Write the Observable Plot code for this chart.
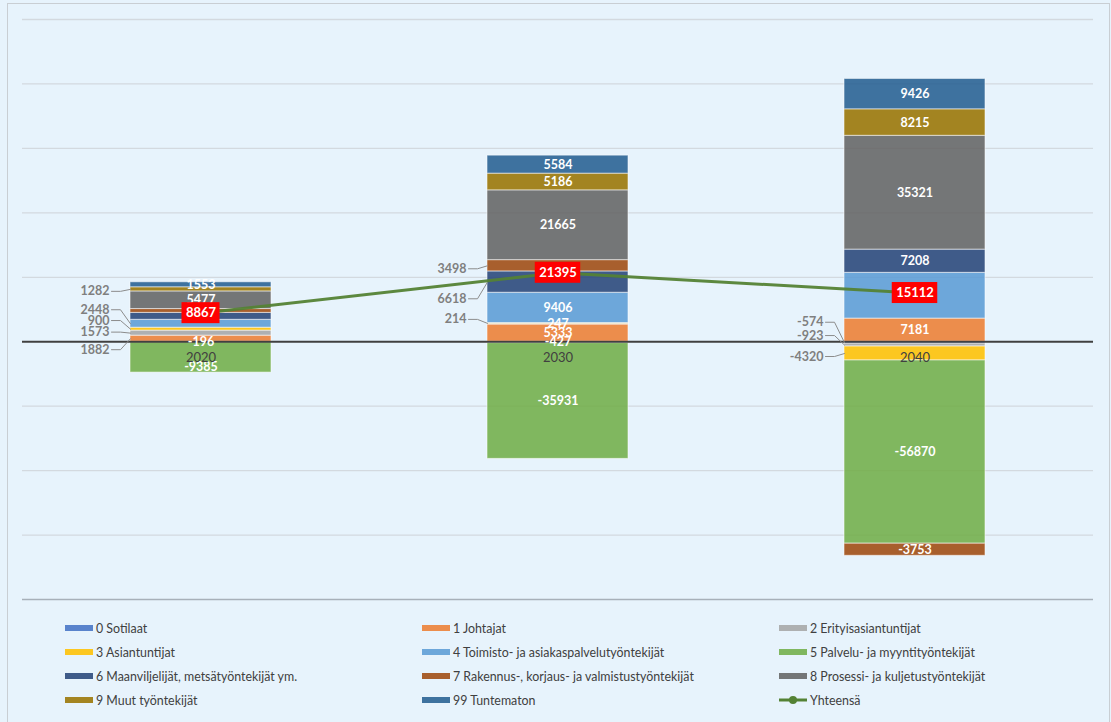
<!DOCTYPE html>
<html><head><meta charset="utf-8">
<script src="https://cdn.jsdelivr.net/npm/d3@7"></script>
<script src="https://cdn.jsdelivr.net/npm/@observablehq/plot@0.6"></script>
<style>
html,body{margin:0;padding:0;background:#e7f3fc;}
body{width:1111px;height:722px;overflow:hidden;position:relative;font-family:Lato,"Open Sans",sans-serif;}
#frame{position:absolute;left:7px;top:3px;width:1101px;height:740px;border:1px solid #c9ced3;background:#e7f3fc;}
#chart{position:absolute;left:0;top:0;}
#legend{position:absolute;left:65px;top:616px;display:grid;grid-template-columns:357px 357px 320px;}
.item{height:24px;display:flex;align-items:center;font-size:12.4px;color:#404040;white-space:nowrap;}
.sw{width:28px;height:6px;margin-right:3px;flex:none;}
.lsw{width:28px;height:10px;margin-right:3px;flex:none;}
</style></head><body>
<div id="frame"></div>
<div id="chart"></div>
<div id="legend"></div>
<script>
// ---- data ----
const categories = ["2020", "2030", "2040"];
const seriesNames = [
  "0 Sotilaat",
  "1 Johtajat",
  "2 Erityisasiantuntijat",
  "3 Asiantuntijat",
  "4 Toimisto- ja asiakaspalvelutyöntekijät",
  "5 Palvelu- ja myyntityöntekijät",
  "6 Maanviljelijät, metsätyöntekijät ym.",
  "7 Rakennus-, korjaus- ja valmistustyöntekijät",
  "8 Prosessi- ja kuljetustyöntekijät",
  "9 Muut työntekijät",
  "99 Tuntematon"
];
const sotilaat = [-196, -427, -574];
const johtajat = [1882, 5333, 7181];
const erityisasiantuntijat = [1573, 247, -923];
const asiantuntijat = [900, 214, -4320];
const toimisto = [2448, 9406, 14201];
const palvelu = [-9385, -35931, -56870];
const maanviljelijat = [2153, 6618, 7208];
const rakennus = [1180, 3498, -3753];
const prosessi = [5477, 21665, 35321];
const muut = [1282, 5186, 8215];
const tuntematon = [1553, 5584, 9426];
const yhteensa = [8867, 21395, 15112];
const totalName = "Yhteensä";
const gridTicks = [-80000, -60000, -40000, -20000, 20000, 40000, 60000, 80000, 100000];

// ---- styles ----
const seriesColors = ["#4472C4","#ED7D31","#A5A5A5","#FFC000","#5B9BD5","#70AD47","#264478","#9E480E","#636363","#997300","#255E91"];
const lineColor = "#548235";
// labels that Excel moved outside the bar (key: seriesIndex|categoryIndex -> vertical nudge px)
const outsideNudge = {"9|0": 2, "4|0": -14, "3|0": -8.6, "2|0": -1, "1|0": 11,
                      "7|1": 3, "6|1": 16.7, "3|1": -4,
                      "0|2": -20.4, "2|2": -9.5, "3|2": 3};
const insideNudge = {"5|0": 9.5};
// labels covered by the total boxes in the original (not visible)
const coveredLabels = ["6|0", "7|0", "4|2"];

const W = 1111, H = 611, ML = 22, MR = 18, MT = 19, MB = 12;
const yDomain = [-80000, 100000];
const xPx = (W - ML - MR) / categories.length;         // px per x unit
const yPx = (H - MT - MB) / (yDomain[1] - yDomain[0]); // px per y unit
const hb = 70.5 / xPx;                                  // half bar width in x units

const allSeries = [sotilaat, johtajat, erityisasiantuntijat, asiantuntijat, toimisto, palvelu, maanviljelijat, rakennus, prosessi, muut, tuntematon];

// stacked rows (Excel-style: positives up, negatives down in series order)
const rows = [];
categories.forEach((c, j) => {
  let pos = 0, neg = 0;
  allSeries.forEach((arr, s) => {
    const v = arr[j];
    let y1, y2;
    if (v >= 0) { y1 = pos; y2 = pos + v; pos = y2; } else { y1 = neg; y2 = neg + v; neg = y2; }
    rows.push({s, j, v, y1, y2, mid: (y1 + y2) / 2, key: s + "|" + j});
  });
});
const inside = rows.filter(d => !(d.key in outsideNudge) && !coveredLabels.includes(d.key))
  .map(d => ({...d, ly: d.mid - (insideNudge[d.key] || 0) / yPx}));
const outside = rows.filter(d => d.key in outsideNudge).map(d => ({...d, ly: d.mid - outsideNudge[d.key] / yPx}));
const leaders = outside.flatMap(d => [
  {key: d.key, x: d.j - hb - 19 / xPx, y: d.ly},
  {key: d.key, x: d.j - hb - 10 / xPx, y: d.ly},
  {key: d.key, x: d.j - hb, y: d.mid}
]);
const totals = yhteensa.map((t, j) => ({j, t, w: (String(t).length * 7.5 + 8) / 2 / xPx, h: 10.5 / yPx}));

const plot = Plot.plot({
  width: W, height: H,
  marginLeft: ML, marginRight: MR, marginTop: MT, marginBottom: MB,
  style: {fontFamily: "Lato, 'Open Sans', sans-serif", background: "transparent", overflow: "visible"},
  x: {domain: [-0.5, categories.length - 0.5], axis: null},
  y: {domain: yDomain, axis: null},
  marks: [
    Plot.ruleY(gridTicks, {stroke: d => d === yDomain[0] ? "#a7b0b9" : "#d3d9df", strokeWidth: d => d === yDomain[0] ? 1.6 : 1.3}),
    Plot.rect(rows, {x1: d => d.j - hb, x2: d => d.j + hb, y1: "y1", y2: "y2",
      fill: d => seriesColors[d.s], fillOpacity: 0.87, stroke: "#ffffff", strokeOpacity: 0.55, strokeWidth: 1}),
    Plot.ruleY([0], {stroke: "#404040", strokeWidth: 2}),
    Plot.text(inside, {x: "j", y: "ly", text: d => String(d.v), fill: "white", fontSize: 12.5, fontWeight: 700}),
    Plot.line(leaders, {x: "x", y: "y", z: "key", stroke: "#8c8c8c", strokeWidth: 1}),
    Plot.text(outside, {x: d => d.j - hb, y: "ly", dx: -21, text: d => String(d.v), textAnchor: "end",
      fill: "#7f7f7f", fontSize: 12.5, fontWeight: 700}),
    Plot.text(categories, {x: (d, i) => i, y: () => 0, dy: 16, text: d => d, fill: "#404040", fontSize: 13}),
    Plot.line(totals, {x: "j", y: "t", stroke: lineColor, strokeWidth: 3, strokeOpacity: 0.95}),
    Plot.dot(totals, {x: "j", y: "t", r: 4, fill: lineColor}),
    Plot.rect(totals, {x1: d => d.j - d.w, x2: d => d.j + d.w, y1: d => d.t - d.h, y2: d => d.t + d.h, fill: "#ff0000"}),
    Plot.text(totals, {x: "j", y: "t", text: d => String(d.t), fill: "white", fontSize: 13, fontWeight: 700})
  ]
});
document.getElementById("chart").appendChild(plot);

// legend
const legend = document.getElementById("legend");
seriesNames.forEach((name, i) => {
  const it = document.createElement("div");
  it.className = "item";
  it.innerHTML = `<span class="sw" style="background:${seriesColors[i]};opacity:0.87"></span><span>${name}</span>`;
  legend.appendChild(it);
});
const li = document.createElement("div");
li.className = "item";
li.innerHTML = `<svg class="lsw" width="28" height="10"><line x1="0" x2="28" y1="5" y2="5" stroke="${lineColor}" stroke-width="3"/><circle cx="14" cy="5" r="4" fill="${lineColor}"/></svg><span>${totalName}</span>`;
legend.appendChild(li);
</script>
</body></html>
